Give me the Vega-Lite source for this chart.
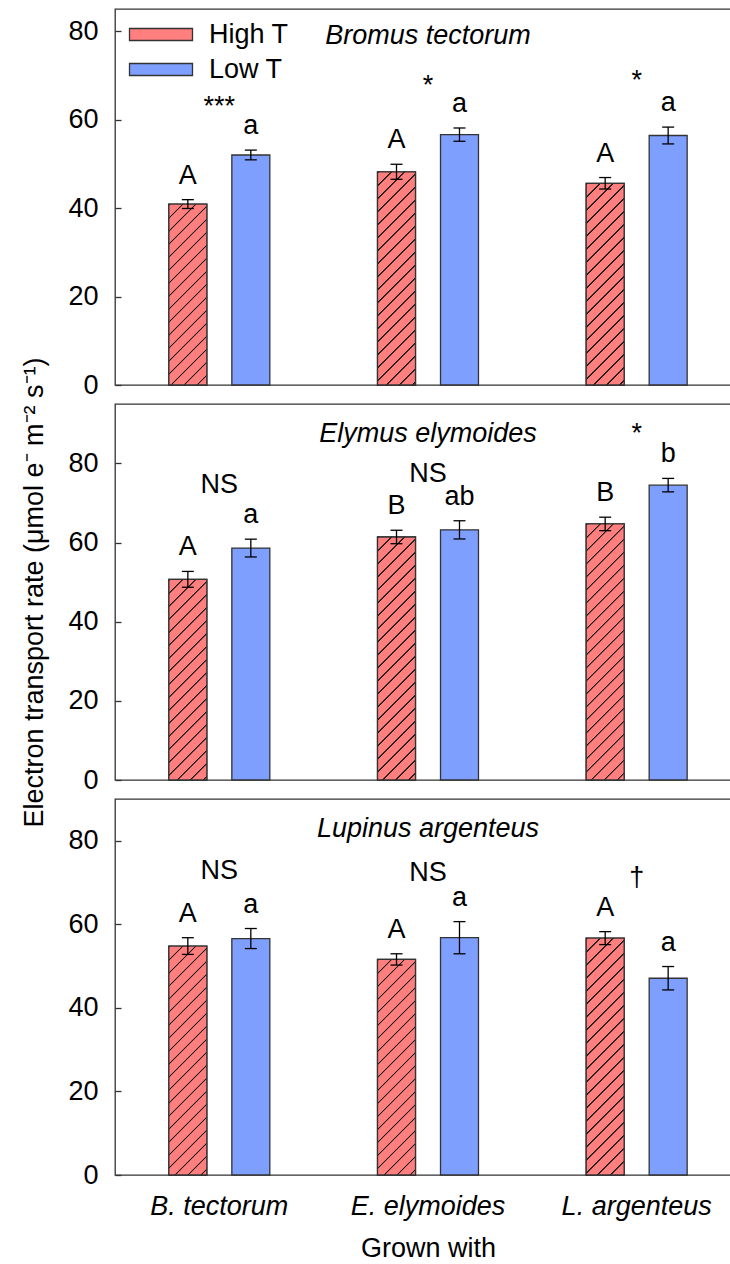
{
  "$schema": "https://vega.github.io/schema/vega-lite/v6.json",
  "padding": {"left": 20, "top": 8, "right": -12, "bottom": 0},
  "bounds": "flush",
  "spacing": 19,
  "params": [
    {"name": "hatchStops", "value": [
      {"offset": 0, "color": "#ff7f7f"}, {"offset": 0.00144, "color": "#1a1a1a"}, {"offset": 0.00385, "color": "#1a1a1a"}, {"offset": 0.00529, "color": "#ff7f7f"},
      {"offset": 0.03125, "color": "#ff7f7f"}, {"offset": 0.03269, "color": "#1a1a1a"}, {"offset": 0.0351, "color": "#1a1a1a"}, {"offset": 0.03654, "color": "#ff7f7f"},
      {"offset": 0.0625, "color": "#ff7f7f"}, {"offset": 0.06394, "color": "#1a1a1a"}, {"offset": 0.06635, "color": "#1a1a1a"}, {"offset": 0.06779, "color": "#ff7f7f"},
      {"offset": 0.09375, "color": "#ff7f7f"}, {"offset": 0.09519, "color": "#1a1a1a"}, {"offset": 0.0976, "color": "#1a1a1a"}, {"offset": 0.09904, "color": "#ff7f7f"},
      {"offset": 0.125, "color": "#ff7f7f"}, {"offset": 0.12644, "color": "#1a1a1a"}, {"offset": 0.12885, "color": "#1a1a1a"}, {"offset": 0.13029, "color": "#ff7f7f"},
      {"offset": 0.15625, "color": "#ff7f7f"}, {"offset": 0.15769, "color": "#1a1a1a"}, {"offset": 0.1601, "color": "#1a1a1a"}, {"offset": 0.16154, "color": "#ff7f7f"},
      {"offset": 0.1875, "color": "#ff7f7f"}, {"offset": 0.18894, "color": "#1a1a1a"}, {"offset": 0.19135, "color": "#1a1a1a"}, {"offset": 0.19279, "color": "#ff7f7f"},
      {"offset": 0.21875, "color": "#ff7f7f"}, {"offset": 0.22019, "color": "#1a1a1a"}, {"offset": 0.2226, "color": "#1a1a1a"}, {"offset": 0.22404, "color": "#ff7f7f"},
      {"offset": 0.25, "color": "#ff7f7f"}, {"offset": 0.25144, "color": "#1a1a1a"}, {"offset": 0.25385, "color": "#1a1a1a"}, {"offset": 0.25529, "color": "#ff7f7f"},
      {"offset": 0.28125, "color": "#ff7f7f"}, {"offset": 0.28269, "color": "#1a1a1a"}, {"offset": 0.2851, "color": "#1a1a1a"}, {"offset": 0.28654, "color": "#ff7f7f"},
      {"offset": 0.3125, "color": "#ff7f7f"}, {"offset": 0.31394, "color": "#1a1a1a"}, {"offset": 0.31635, "color": "#1a1a1a"}, {"offset": 0.31779, "color": "#ff7f7f"},
      {"offset": 0.34375, "color": "#ff7f7f"}, {"offset": 0.34519, "color": "#1a1a1a"}, {"offset": 0.3476, "color": "#1a1a1a"}, {"offset": 0.34904, "color": "#ff7f7f"},
      {"offset": 0.375, "color": "#ff7f7f"}, {"offset": 0.37644, "color": "#1a1a1a"}, {"offset": 0.37885, "color": "#1a1a1a"}, {"offset": 0.38029, "color": "#ff7f7f"},
      {"offset": 0.40625, "color": "#ff7f7f"}, {"offset": 0.40769, "color": "#1a1a1a"}, {"offset": 0.4101, "color": "#1a1a1a"}, {"offset": 0.41154, "color": "#ff7f7f"},
      {"offset": 0.4375, "color": "#ff7f7f"}, {"offset": 0.43894, "color": "#1a1a1a"}, {"offset": 0.44135, "color": "#1a1a1a"}, {"offset": 0.44279, "color": "#ff7f7f"},
      {"offset": 0.46875, "color": "#ff7f7f"}, {"offset": 0.47019, "color": "#1a1a1a"}, {"offset": 0.4726, "color": "#1a1a1a"}, {"offset": 0.47404, "color": "#ff7f7f"},
      {"offset": 0.5, "color": "#ff7f7f"}, {"offset": 0.50144, "color": "#1a1a1a"}, {"offset": 0.50385, "color": "#1a1a1a"}, {"offset": 0.50529, "color": "#ff7f7f"},
      {"offset": 0.53125, "color": "#ff7f7f"}, {"offset": 0.53269, "color": "#1a1a1a"}, {"offset": 0.5351, "color": "#1a1a1a"}, {"offset": 0.53654, "color": "#ff7f7f"},
      {"offset": 0.5625, "color": "#ff7f7f"}, {"offset": 0.56394, "color": "#1a1a1a"}, {"offset": 0.56635, "color": "#1a1a1a"}, {"offset": 0.56779, "color": "#ff7f7f"},
      {"offset": 0.59375, "color": "#ff7f7f"}, {"offset": 0.59519, "color": "#1a1a1a"}, {"offset": 0.5976, "color": "#1a1a1a"}, {"offset": 0.59904, "color": "#ff7f7f"},
      {"offset": 0.625, "color": "#ff7f7f"}, {"offset": 0.62644, "color": "#1a1a1a"}, {"offset": 0.62885, "color": "#1a1a1a"}, {"offset": 0.63029, "color": "#ff7f7f"},
      {"offset": 0.65625, "color": "#ff7f7f"}, {"offset": 0.65769, "color": "#1a1a1a"}, {"offset": 0.6601, "color": "#1a1a1a"}, {"offset": 0.66154, "color": "#ff7f7f"},
      {"offset": 0.6875, "color": "#ff7f7f"}, {"offset": 0.68894, "color": "#1a1a1a"}, {"offset": 0.69135, "color": "#1a1a1a"}, {"offset": 0.69279, "color": "#ff7f7f"},
      {"offset": 0.71875, "color": "#ff7f7f"}, {"offset": 0.72019, "color": "#1a1a1a"}, {"offset": 0.7226, "color": "#1a1a1a"}, {"offset": 0.72404, "color": "#ff7f7f"},
      {"offset": 0.75, "color": "#ff7f7f"}, {"offset": 0.75144, "color": "#1a1a1a"}, {"offset": 0.75385, "color": "#1a1a1a"}, {"offset": 0.75529, "color": "#ff7f7f"},
      {"offset": 0.78125, "color": "#ff7f7f"}, {"offset": 0.78269, "color": "#1a1a1a"}, {"offset": 0.7851, "color": "#1a1a1a"}, {"offset": 0.78654, "color": "#ff7f7f"},
      {"offset": 0.8125, "color": "#ff7f7f"}, {"offset": 0.81394, "color": "#1a1a1a"}, {"offset": 0.81635, "color": "#1a1a1a"}, {"offset": 0.81779, "color": "#ff7f7f"},
      {"offset": 0.84375, "color": "#ff7f7f"}, {"offset": 0.84519, "color": "#1a1a1a"}, {"offset": 0.8476, "color": "#1a1a1a"}, {"offset": 0.84904, "color": "#ff7f7f"},
      {"offset": 0.875, "color": "#ff7f7f"}, {"offset": 0.87644, "color": "#1a1a1a"}, {"offset": 0.87885, "color": "#1a1a1a"}, {"offset": 0.88029, "color": "#ff7f7f"},
      {"offset": 0.90625, "color": "#ff7f7f"}, {"offset": 0.90769, "color": "#1a1a1a"}, {"offset": 0.9101, "color": "#1a1a1a"}, {"offset": 0.91154, "color": "#ff7f7f"},
      {"offset": 0.9375, "color": "#ff7f7f"}, {"offset": 0.93894, "color": "#1a1a1a"}, {"offset": 0.94135, "color": "#1a1a1a"}, {"offset": 0.94279, "color": "#ff7f7f"},
      {"offset": 0.96875, "color": "#ff7f7f"}, {"offset": 0.97019, "color": "#1a1a1a"}, {"offset": 0.9726, "color": "#1a1a1a"}, {"offset": 0.97404, "color": "#ff7f7f"},
      {"offset": 1, "color": "#ff7f7f"}
    ]}
  ],
  "datasets": {
    "bars": [
      {"panel": "Bromus tectorum", "grown": "B. tectorum", "series": "High T", "mean": 40.9, "lo": 39.9, "hi": 41.9, "letter": "A"},
      {"panel": "Bromus tectorum", "grown": "B. tectorum", "series": "Low T", "mean": 52.0, "lo": 50.9, "hi": 53.1, "letter": "a"},
      {"panel": "Bromus tectorum", "grown": "E. elymoides", "series": "High T", "mean": 48.2, "lo": 46.5, "hi": 49.9, "letter": "A"},
      {"panel": "Bromus tectorum", "grown": "E. elymoides", "series": "Low T", "mean": 56.6, "lo": 55.1, "hi": 58.1, "letter": "a"},
      {"panel": "Bromus tectorum", "grown": "L. argenteus", "series": "High T", "mean": 45.6, "lo": 44.3, "hi": 46.9, "letter": "A"},
      {"panel": "Bromus tectorum", "grown": "L. argenteus", "series": "Low T", "mean": 56.4, "lo": 54.5, "hi": 58.3, "letter": "a"},
      {"panel": "Elymus elymoides", "grown": "B. tectorum", "series": "High T", "mean": 50.7, "lo": 48.7, "hi": 52.7, "letter": "A"},
      {"panel": "Elymus elymoides", "grown": "B. tectorum", "series": "Low T", "mean": 58.6, "lo": 56.35, "hi": 60.85, "letter": "a"},
      {"panel": "Elymus elymoides", "grown": "E. elymoides", "series": "High T", "mean": 61.4, "lo": 59.7, "hi": 63.1, "letter": "B"},
      {"panel": "Elymus elymoides", "grown": "E. elymoides", "series": "Low T", "mean": 63.2, "lo": 60.9, "hi": 65.5, "letter": "ab"},
      {"panel": "Elymus elymoides", "grown": "L. argenteus", "series": "High T", "mean": 64.7, "lo": 63.0, "hi": 66.4, "letter": "B"},
      {"panel": "Elymus elymoides", "grown": "L. argenteus", "series": "Low T", "mean": 74.5, "lo": 72.8, "hi": 76.2, "letter": "b"},
      {"panel": "Lupinus argenteus", "grown": "B. tectorum", "series": "High T", "mean": 54.8, "lo": 52.8, "hi": 56.8, "letter": "A"},
      {"panel": "Lupinus argenteus", "grown": "B. tectorum", "series": "Low T", "mean": 56.6, "lo": 54.2, "hi": 59.0, "letter": "a"},
      {"panel": "Lupinus argenteus", "grown": "E. elymoides", "series": "High T", "mean": 51.6, "lo": 50.25, "hi": 52.95, "letter": "A"},
      {"panel": "Lupinus argenteus", "grown": "E. elymoides", "series": "Low T", "mean": 56.8, "lo": 52.95, "hi": 60.65, "letter": "a"},
      {"panel": "Lupinus argenteus", "grown": "L. argenteus", "series": "High T", "mean": 56.7, "lo": 55.15, "hi": 58.25, "letter": "A"},
      {"panel": "Lupinus argenteus", "grown": "L. argenteus", "series": "Low T", "mean": 47.1, "lo": 44.3, "hi": 49.9, "letter": "a"}
    ],
    "sig": [
      {"panel": "Bromus tectorum", "grown": "B. tectorum", "y": 61.0, "label": "***"},
      {"panel": "Bromus tectorum", "grown": "E. elymoides", "y": 65.7, "label": "*"},
      {"panel": "Bromus tectorum", "grown": "L. argenteus", "y": 67.0, "label": "*"},
      {"panel": "Elymus elymoides", "grown": "B. tectorum", "y": 72.4, "label": "NS"},
      {"panel": "Elymus elymoides", "grown": "E. elymoides", "y": 75.3, "label": "NS"},
      {"panel": "Elymus elymoides", "grown": "L. argenteus", "y": 85.5, "label": "*"},
      {"panel": "Lupinus argenteus", "grown": "B. tectorum", "y": 70.9, "label": "NS"},
      {"panel": "Lupinus argenteus", "grown": "E. elymoides", "y": 70.4, "label": "NS"},
      {"panel": "Lupinus argenteus", "grown": "L. argenteus", "y": 69.2, "label": "†"}
    ]
  },
  "vconcat": [
    {
      "width": 626, "height": 376,
      "title": {"text": "Bromus tectorum", "offset": -41},
      "encoding": {
        "x": {"field": "grown", "type": "nominal", "sort": ["B. tectorum", "E. elymoides", "L. argenteus"], "scale": {"domain": ["B. tectorum", "E. elymoides", "L. argenteus"], "paddingInner": 0, "paddingOuter": 0}, "axis": null}
      },
      "layer": [
        {
          "data": {"name": "bars"}, "transform": [{"filter": "datum.panel === 'Bromus tectorum'"}],
          "mark": {"type": "bar", "stroke": "#333", "strokeWidth": 1.3},
          "encoding": {
            "xOffset": {"field": "series", "type": "nominal", "scale": {"domain": ["High T", "Low T"], "paddingInner": 0.397, "paddingOuter": 0.855}},
            "y": {"field": "mean", "type": "quantitative", "title": null, "scale": {"domain": [0, 85], "nice": false}},
            "fill": {"field": "series", "type": "nominal", "scale": {"domain": ["High T", "Low T"], "range": ["#ff7f7f", "#7f9fff"]},
              "legend": {"orient": "none", "legendX": 10, "legendY": 12, "title": null, "symbolType": "M-1,-0.667H6V0.667H-1Z", "symbolSize": 324, "labelFontSize": 27, "labelColor": "#000", "labelOffset": 57, "rowPadding": 7, "padding": 0, "symbolStrokeColor": "#333", "symbolStrokeWidth": 1.3, "symbolOpacity": 1,
                "encode": {"symbols": {"update": {"fill": {"signal": "datum.value === 'High T' ? {gradient: 'linear', x1: 0, y1: 0, x2: 6.372, y2: 1.2137, stops: hatchStops} : '#7f9fff'"}, "stroke": {"value": "#333"}, "strokeWidth": {"value": 1.3}}}}}}
          }
        },
        {
          "data": {"name": "bars"}, "transform": [{"filter": "datum.panel === 'Bromus tectorum' && datum.series === 'High T'"}],
          "mark": {"type": "bar", "stroke": "#333", "strokeWidth": 1.3, "fill": {"expr": "{gradient: 'linear', x1: 0, y1: 0, x2: 416*38/(1444+pow(datum.mean*4.4235,2)), y2: 416*datum.mean*4.4235/(1444+pow(datum.mean*4.4235,2)), stops: hatchStops}"}},
          "encoding": {
            "xOffset": {"field": "series", "type": "nominal", "scale": {"domain": ["High T", "Low T"]}},
            "y": {"field": "mean", "type": "quantitative", "title": null}
          }
        },
        {
          "data": {"name": "bars"}, "transform": [{"filter": "datum.panel === 'Bromus tectorum'"}],
          "mark": {"type": "rule", "color": "#000", "strokeWidth": 1.3},
          "encoding": {
            "xOffset": {"field": "series", "type": "nominal", "scale": {"domain": ["High T", "Low T"]}},
            "y": {"field": "lo", "type": "quantitative", "title": null},
            "y2": {"field": "hi"}
          }
        },
        {
          "data": {"name": "bars"}, "transform": [{"filter": "datum.panel === 'Bromus tectorum'"}],
          "mark": {"type": "tick", "orient": "horizontal", "size": 12, "thickness": 1.3, "color": "#000", "opacity": 1},
          "encoding": {
            "xOffset": {"field": "series", "type": "nominal", "scale": {"domain": ["High T", "Low T"]}},
            "y": {"field": "lo", "type": "quantitative", "title": null}
          }
        },
        {
          "data": {"name": "bars"}, "transform": [{"filter": "datum.panel === 'Bromus tectorum'"}],
          "mark": {"type": "tick", "orient": "horizontal", "size": 12, "thickness": 1.3, "color": "#000", "opacity": 1},
          "encoding": {
            "xOffset": {"field": "series", "type": "nominal", "scale": {"domain": ["High T", "Low T"]}},
            "y": {"field": "hi", "type": "quantitative", "title": null}
          }
        },
        {
          "data": {"name": "bars"}, "transform": [{"filter": "datum.panel === 'Bromus tectorum'"}],
          "mark": {"type": "text", "fontSize": 27, "dy": -16, "baseline": "alphabetic", "align": "center", "color": "#000"},
          "encoding": {
            "xOffset": {"field": "series", "type": "nominal", "scale": {"domain": ["High T", "Low T"]}},
            "y": {"field": "hi", "type": "quantitative", "title": null},
            "text": {"field": "letter"}
          }
        },
        {
          "data": {"name": "sig"}, "transform": [{"filter": "datum.panel === 'Bromus tectorum'"}],
          "mark": {"type": "text", "fontSize": 27, "baseline": "alphabetic", "align": "center", "color": "#000"},
          "encoding": {
            "y": {"field": "y", "type": "quantitative", "title": null},
            "text": {"field": "label"}
          }
        }
      ]
    },
    {
      "width": 626, "height": 376,
      "title": {"text": "Elymus elymoides", "offset": -91},
      "encoding": {
        "x": {"field": "grown", "type": "nominal", "sort": ["B. tectorum", "E. elymoides", "L. argenteus"], "scale": {"domain": ["B. tectorum", "E. elymoides", "L. argenteus"], "paddingInner": 0, "paddingOuter": 0}, "axis": null}
      },
      "layer": [
        {
          "data": {"name": "bars"}, "transform": [{"filter": "datum.panel === 'Elymus elymoides'"}],
          "mark": {"type": "bar", "stroke": "#333", "strokeWidth": 1.3},
          "encoding": {
            "xOffset": {"field": "series", "type": "nominal", "scale": {"domain": ["High T", "Low T"], "paddingInner": 0.397, "paddingOuter": 0.855}},
            "y": {"field": "mean", "type": "quantitative", "title": "Electron transport rate (μmol e⁻ m⁻² s⁻¹)", "scale": {"domain": [0, 95], "nice": false}},
            "fill": {"field": "series", "type": "nominal", "scale": {"domain": ["High T", "Low T"], "range": ["#ff7f7f", "#7f9fff"]}, "legend": null}
          }
        },
        {
          "data": {"name": "bars"}, "transform": [{"filter": "datum.panel === 'Elymus elymoides' && datum.series === 'High T'"}],
          "mark": {"type": "bar", "stroke": "#333", "strokeWidth": 1.3, "fill": {"expr": "{gradient: 'linear', x1: 0, y1: 0, x2: 416*38/(1444+pow(datum.mean*3.9579,2)), y2: 416*datum.mean*3.9579/(1444+pow(datum.mean*3.9579,2)), stops: hatchStops}"}},
          "encoding": {
            "xOffset": {"field": "series", "type": "nominal", "scale": {"domain": ["High T", "Low T"]}},
            "y": {"field": "mean", "type": "quantitative", "title": "Electron transport rate (μmol e⁻ m⁻² s⁻¹)"}
          }
        },
        {
          "data": {"name": "bars"}, "transform": [{"filter": "datum.panel === 'Elymus elymoides'"}],
          "mark": {"type": "rule", "color": "#000", "strokeWidth": 1.3},
          "encoding": {
            "xOffset": {"field": "series", "type": "nominal", "scale": {"domain": ["High T", "Low T"]}},
            "y": {"field": "lo", "type": "quantitative", "title": "Electron transport rate (μmol e⁻ m⁻² s⁻¹)"},
            "y2": {"field": "hi"}
          }
        },
        {
          "data": {"name": "bars"}, "transform": [{"filter": "datum.panel === 'Elymus elymoides'"}],
          "mark": {"type": "tick", "orient": "horizontal", "size": 12, "thickness": 1.3, "color": "#000", "opacity": 1},
          "encoding": {
            "xOffset": {"field": "series", "type": "nominal", "scale": {"domain": ["High T", "Low T"]}},
            "y": {"field": "lo", "type": "quantitative", "title": "Electron transport rate (μmol e⁻ m⁻² s⁻¹)"}
          }
        },
        {
          "data": {"name": "bars"}, "transform": [{"filter": "datum.panel === 'Elymus elymoides'"}],
          "mark": {"type": "tick", "orient": "horizontal", "size": 12, "thickness": 1.3, "color": "#000", "opacity": 1},
          "encoding": {
            "xOffset": {"field": "series", "type": "nominal", "scale": {"domain": ["High T", "Low T"]}},
            "y": {"field": "hi", "type": "quantitative", "title": "Electron transport rate (μmol e⁻ m⁻² s⁻¹)"}
          }
        },
        {
          "data": {"name": "bars"}, "transform": [{"filter": "datum.panel === 'Elymus elymoides'"}],
          "mark": {"type": "text", "fontSize": 27, "dy": -16, "baseline": "alphabetic", "align": "center", "color": "#000"},
          "encoding": {
            "xOffset": {"field": "series", "type": "nominal", "scale": {"domain": ["High T", "Low T"]}},
            "y": {"field": "hi", "type": "quantitative", "title": "Electron transport rate (μmol e⁻ m⁻² s⁻¹)"},
            "text": {"field": "letter"}
          }
        },
        {
          "data": {"name": "sig"}, "transform": [{"filter": "datum.panel === 'Elymus elymoides'"}],
          "mark": {"type": "text", "fontSize": 27, "baseline": "alphabetic", "align": "center", "color": "#000"},
          "encoding": {
            "y": {"field": "y", "type": "quantitative", "title": "Electron transport rate (μmol e⁻ m⁻² s⁻¹)"},
            "text": {"field": "label"}
          }
        }
      ]
    },
    {
      "width": 626, "height": 376,
      "title": {"text": "Lupinus argenteus", "offset": -44},
      "encoding": {
        "x": {"field": "grown", "type": "nominal", "sort": ["B. tectorum", "E. elymoides", "L. argenteus"], "scale": {"domain": ["B. tectorum", "E. elymoides", "L. argenteus"], "paddingInner": 0, "paddingOuter": 0}, "title": "Grown with", "axis": {"title": "Grown with", "labelFontStyle": "italic", "ticks": false, "labelPadding": 18, "titlePadding": 16, "labelAngle": 0}}
      },
      "layer": [
        {
          "data": {"name": "bars"}, "transform": [{"filter": "datum.panel === 'Lupinus argenteus'"}],
          "mark": {"type": "bar", "stroke": "#333", "strokeWidth": 1.3},
          "encoding": {
            "xOffset": {"field": "series", "type": "nominal", "scale": {"domain": ["High T", "Low T"], "paddingInner": 0.397, "paddingOuter": 0.855}},
            "y": {"field": "mean", "type": "quantitative", "title": null, "scale": {"domain": [0, 90], "nice": false}},
            "fill": {"field": "series", "type": "nominal", "scale": {"domain": ["High T", "Low T"], "range": ["#ff7f7f", "#7f9fff"]}, "legend": null}
          }
        },
        {
          "data": {"name": "bars"}, "transform": [{"filter": "datum.panel === 'Lupinus argenteus' && datum.series === 'High T'"}],
          "mark": {"type": "bar", "stroke": "#333", "strokeWidth": 1.3, "fill": {"expr": "{gradient: 'linear', x1: 0, y1: 0, x2: 416*38/(1444+pow(datum.mean*4.1778,2)), y2: 416*datum.mean*4.1778/(1444+pow(datum.mean*4.1778,2)), stops: hatchStops}"}},
          "encoding": {
            "xOffset": {"field": "series", "type": "nominal", "scale": {"domain": ["High T", "Low T"]}},
            "y": {"field": "mean", "type": "quantitative", "title": null}
          }
        },
        {
          "data": {"name": "bars"}, "transform": [{"filter": "datum.panel === 'Lupinus argenteus'"}],
          "mark": {"type": "rule", "color": "#000", "strokeWidth": 1.3},
          "encoding": {
            "xOffset": {"field": "series", "type": "nominal", "scale": {"domain": ["High T", "Low T"]}},
            "y": {"field": "lo", "type": "quantitative", "title": null},
            "y2": {"field": "hi"}
          }
        },
        {
          "data": {"name": "bars"}, "transform": [{"filter": "datum.panel === 'Lupinus argenteus'"}],
          "mark": {"type": "tick", "orient": "horizontal", "size": 12, "thickness": 1.3, "color": "#000", "opacity": 1},
          "encoding": {
            "xOffset": {"field": "series", "type": "nominal", "scale": {"domain": ["High T", "Low T"]}},
            "y": {"field": "lo", "type": "quantitative", "title": null}
          }
        },
        {
          "data": {"name": "bars"}, "transform": [{"filter": "datum.panel === 'Lupinus argenteus'"}],
          "mark": {"type": "tick", "orient": "horizontal", "size": 12, "thickness": 1.3, "color": "#000", "opacity": 1},
          "encoding": {
            "xOffset": {"field": "series", "type": "nominal", "scale": {"domain": ["High T", "Low T"]}},
            "y": {"field": "hi", "type": "quantitative", "title": null}
          }
        },
        {
          "data": {"name": "bars"}, "transform": [{"filter": "datum.panel === 'Lupinus argenteus'"}],
          "mark": {"type": "text", "fontSize": 27, "dy": -16, "baseline": "alphabetic", "align": "center", "color": "#000"},
          "encoding": {
            "xOffset": {"field": "series", "type": "nominal", "scale": {"domain": ["High T", "Low T"]}},
            "y": {"field": "hi", "type": "quantitative", "title": null},
            "text": {"field": "letter"}
          }
        },
        {
          "data": {"name": "sig"}, "transform": [{"filter": "datum.panel === 'Lupinus argenteus'"}],
          "mark": {"type": "text", "fontSize": 27, "baseline": "alphabetic", "align": "center", "color": "#000"},
          "encoding": {
            "y": {"field": "y", "type": "quantitative", "title": null},
            "text": {"field": "label"}
          }
        }
      ]
    }
  ],
  "config": {
    "font": "Liberation Sans",
    "background": "#ffffff",
    "view": {"stroke": "#333", "strokeWidth": 1.3},
    "axis": {"labelFontSize": 27, "labelColor": "#000", "titleFontSize": 27, "titleFontWeight": "normal", "titleColor": "#000", "grid": false, "domain": false, "labelFont": "Liberation Sans", "titleFont": "Liberation Sans"},
    "axisY": {"tickSize": -6, "tickColor": "#333", "tickWidth": 1.3, "labelPadding": 23, "tickCount": 5, "titlePadding": 19},
    "title": {"fontSize": 27, "fontStyle": "italic", "fontWeight": "normal", "color": "#000", "anchor": "middle", "frame": "group", "baseline": "alphabetic", "font": "Liberation Sans"},
    "legend": {"labelFont": "Liberation Sans"}
  }
}
